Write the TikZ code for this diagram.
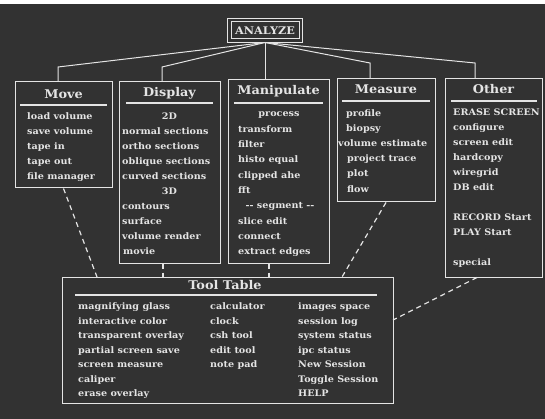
\documentclass[tikz,border=0pt]{standalone}
\usepackage{fontspec}
\setmainfont{DejaVu Serif}
\newfontfamily\scrfont[FakeStretch=1.07]{DejaVu Serif Bold}
\usetikzlibrary{positioning}

\definecolor{screen}{HTML}{323232}
\definecolor{ink}{HTML}{E4E4E4}

\tikzset{
  panel/.style={draw=ink, line width=1pt, inner sep=0pt},
  heading/.style={text=ink, font=\scrfont\fontsize{12}{12}\selectfont, inner sep=0pt},
  entry/.style={text=ink, font=\scrfont\fontsize{9}{9}\selectfont, inner sep=0pt,
    text height=7pt, text depth=2pt, anchor=west},
  rule/.style={draw=ink, line width=1.6pt},
  tree/.style={draw=ink, line width=1pt},
  hook/.style={draw=ink, line width=1.2pt, dash pattern=on 5pt off 4pt},
}

\begin{document}
\begin{tikzpicture}[x=1pt,y=-1pt]
\useasboundingbox (0,0) rectangle (545,419);
\fill[screen] (0,0) rectangle (545,419);
\fill[white] (0,0) rectangle (545,4);

% top menu, framed twice
\node[panel, minimum width=68pt, minimum height=17pt, text=ink,
  font=\scrfont\fontsize{10.5}{10.5}\selectfont] (analyze) at (265,30.5) {ANALYZE};
\draw[ink, line width=1pt] ([shift={(-3,3)}]analyze.south west)
  rectangle ([shift={(3,-3)}]analyze.north east);

% the five menus
\node[panel, minimum width=97pt, minimum height=106pt] (move) at (63.5,135) {};
\node[panel, minimum width=101pt, minimum height=181pt] (display) at (169.5,172.5) {};
\node[panel, minimum width=101pt, minimum height=183pt] (manip) at (278.5,171.5) {};
\node[panel, minimum width=98pt, minimum height=123pt] (measure) at (386,140.5) {};
\node[panel, minimum width=97pt, minimum height=198pt] (other) at (493.5,178) {};
\node[panel, minimum width=331pt, minimum height=126pt] (tools) at (227.5,340) {};

\node[heading] (movet) at (63.5,94) {Move};
\node[heading] (displayt) at (169.5,93) {Display};
\node[heading] (manipt) at (278.5,91) {Manipulate};
\node[heading] (measuret) at (386,89) {Measure};
\node[heading] (othert) at (493.5,89) {Other};
\node[heading] (toolst) at (225,285) {Tool Table};

\draw[rule] (20,105) -- (107,105);
\draw[rule] (126,103) -- (213,103);
\draw[rule] (234,103) -- (323,103);
\draw[rule] (342,101) -- (430,101);
\draw[rule] (451,101) -- (537,101);
\draw[rule] (75,295) -- (377,295);

% menu entries
\foreach \t [count=\i] in {load volume,save volume,tape in,tape out,file manager}
  \node[entry] (mv\i) at (27,102+15*\i) {\t};

\foreach \a/\x/\t [count=\i] in {center/169.5/2D,west/122/normal sections,
    west/122/ortho sections,west/122/oblique sections,west/122/curved sections,
    center/169.5/3D,west/122/contours,west/122/surface,west/122/volume render,
    west/123/movie}
  \node[entry, anchor=\a] (dp\i) at (\x,102+15*\i) {\t};

\foreach \a/\x/\t [count=\i] in {center/279/process,west/238/transform,
    west/238/filter,west/238/histo equal,west/238/clipped ahe,west/238/fft,
    center/280/{-- segment --},west/238/slice edit,west/238/connect,
    west/238/extract edges}
  \node[entry, anchor=\a] (mp\i) at (\x,99.2+15.3*\i) {\t};

\foreach \x/\t [count=\i] in {346/profile,346/biopsy,338/volume estimate,
    347/project trace,347/plot,347/flow}
  \node[entry] (ms\i) at (\x,99+15.1*\i) {\t};

\foreach \n/\t in {1/ERASE SCREEN,2/configure,3/screen edit,4/hardcopy,
    5/wiregrid,6/DB edit,8/RECORD Start,9/PLAY Start,11/special}
  \node[entry] (ot\n) at (453,98+15*\n) {\t};

% tool table columns
\foreach \t [count=\i] in {magnifying glass,interactive color,transparent overlay,
    partial screen save,screen measure,caliper,erase overlay}
  \node[entry] (ta\i) at (78,292.5+14.5*\i) {\t};
\foreach \t [count=\i] in {calculator,clock,csh tool,edit tool,note pad}
  \node[entry] (tb\i) at (210,292.5+14.5*\i) {\t};
\foreach \t [count=\i] in {images space,session log,system status,ipc status,
    New Session,Toggle Session,HELP}
  \node[entry] (tc\i) at (298,292.5+14.5*\i) {\t};

% tree from the top menu
\coordinate (kmove) at (58,67);
\coordinate (kdisp) at (162,67);
\coordinate (kmeas) at (370,63);
\coordinate (kother) at (475,63);
\draw[tree] (analyze.south) ++(0,3) coordinate (aroot);
\draw[tree] (aroot) -- (kmove) -- (kmove |- move.north);
\draw[tree] (aroot) -- (kdisp) -- (kdisp |- display.north);
\draw[tree] (aroot) -- (aroot |- manip.north);
\draw[tree] (aroot) -- (kmeas) -- (kmeas |- measure.north);
\draw[tree] (aroot) -- (kother) -- (kother |- other.north);

% every menu reaches the tool table
\coordinate (tmove) at (97,277);
\coordinate (tdisp) at (163,0);
\coordinate (tmanip) at (269,0);
\coordinate (tmeas) at (342,277);
\coordinate (oother) at (477,0);
\coordinate (tother) at (393,320);
\draw[hook] (move.south) -- (tmove);
\draw[hook] (display.south -| tdisp) -- (tools.north -| tdisp);
\draw[hook] (manip.south -| tmanip) -- (tools.north -| tmanip);
\draw[hook] (measure.south) -- (tmeas);
\draw[hook] (other.south -| oother) -- (tother);
\end{tikzpicture}
\end{document}
